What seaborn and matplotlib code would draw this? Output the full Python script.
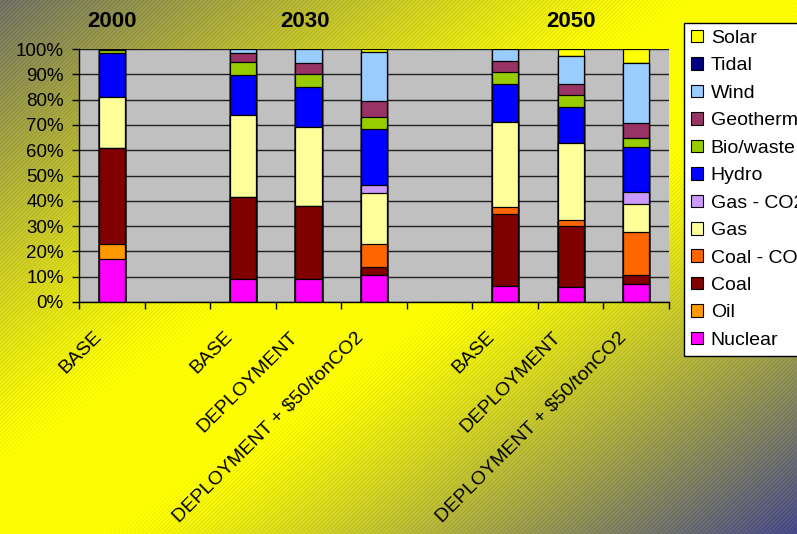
import numpy as np
import pandas as pd
import matplotlib
matplotlib.use("Agg")
import matplotlib.pyplot as plt
import matplotlib.transforms as mtransforms
from matplotlib.patches import Patch
import seaborn as sns

plt.rcParams["font.family"] = ["Liberation Sans", "DejaVu Sans"]

# Generation mix (% of total electricity) for each scenario, stacked bottom to top
sources = ["Nuclear", "Oil", "Coal", "Coal - CO2 capture", "Gas", "Gas - CO2 capture",
           "Hydro", "Bio/waste", "Geothermal", "Wind", "Tidal", "Solar"]
colors = ["#FF00FF", "#FF9900", "#800000", "#FF6600", "#FFFF99", "#CC99FF",
          "#0000FF", "#99CC00", "#993366", "#99CCFF", "#000080", "#FFFF00"]

years = ["2000", "2030", "2050"]
scenario_keys = ["2000 BASE", "2030 BASE", "2030 DEPLOYMENT", "2030 DEPLOYMENT + $50/tonCO2",
                 "2050 BASE", "2050 DEPLOYMENT", "2050 DEPLOYMENT + $50/tonCO2"]
slot_order = ["2000 BASE", "gap 1", "2030 BASE", "2030 DEPLOYMENT", "2030 DEPLOYMENT + $50/tonCO2",
              "gap 2", "2050 BASE", "2050 DEPLOYMENT", "2050 DEPLOYMENT + $50/tonCO2"]
slot_labels = ["BASE", "", "BASE", "DEPLOYMENT", "DEPLOYMENT + $50/tonCO2",
               "", "BASE", "DEPLOYMENT", "DEPLOYMENT + $50/tonCO2"]

nuclear  = [17.0,  9.0,  9.0, 10.7,  6.3,  6.0,  7.1]
oil      = [ 6.0,  0.0,  0.0,  0.0,  0.0,  0.0,  0.0]
coal     = [37.7, 32.5, 29.0,  3.0, 28.5, 24.0,  3.4]
coal_ccs = [ 0.0,  0.0,  0.0,  9.2,  2.6,  2.4, 17.3]
gas      = [20.5, 32.4, 31.0, 20.1, 33.6, 30.3, 10.8]
gas_ccs  = [ 0.0,  0.0,  0.0,  3.1,  0.0,  0.0,  5.0]
hydro    = [17.3, 16.0, 15.9, 22.2, 15.3, 14.5, 17.8]
bio      = [ 1.2,  5.1,  5.1,  4.9,  4.7,  4.6,  3.3]
geo      = [ 0.3,  3.6,  4.6,  6.1,  4.4,  4.2,  5.9]
wind     = [ 0.0,  1.4,  5.4, 19.6,  4.6, 11.2, 24.0]
tidal    = [ 0.0,  0.0,  0.0,  0.0,  0.0,  0.0,  0.0]
solar    = [ 0.0,  0.0,  0.0,  1.1,  0.0,  2.8,  5.4]

series = [nuclear, oil, coal, coal_ccs, gas, gas_ccs, hydro, bio, geo, wind, tidal, solar]

rows = []
for src, vals in zip(sources, series):
    for key, v in zip(scenario_keys, vals):
        rows.append({"scenario": key, "source": src, "share": v})
df = pd.DataFrame(rows)
df["source"] = pd.Categorical(df["source"], categories=sources, ordered=True)
df = df.sort_values(["scenario", "source"])
df["top"] = df.groupby("scenario", observed=True)["share"].cumsum()

W, H, DPI = 797, 534, 100
fig = plt.figure(figsize=(W / DPI, H / DPI), dpi=DPI)

# diagonal gradient backdrop with a fine hatch texture
yy, xx = np.mgrid[0:H, 0:W].astype(float)
t = (xx / W + yy / H) / 2.0
d = np.abs(t - 0.5) * 2.0
w = np.clip((d - 0.12) / 0.88, 0, 1) ** 1.15
yellow = np.array([255, 255, 0], float)
corner_tl = np.array([112, 112, 100], float)
corner_br = np.array([70, 72, 138], float)
corner = np.where((t < 0.5)[..., None], corner_tl, corner_br)
img = yellow * (1 - w[..., None]) + corner * w[..., None]
img += 7.0 * np.sin(2 * np.pi * (xx + yy) / 4.0)[..., None]
img = np.clip(img, 0, 255) / 255.0
bg = fig.add_axes([0, 0, 1, 1], zorder=-10)
bg.imshow(img, aspect="auto", extent=[0, 1, 0, 1], interpolation="nearest")
bg.axis("off")

ax = fig.add_axes([79 / W, 1 - 302 / H, 590 / W, 253 / H])
ax.set_facecolor("#C0C0C0")
ax.set_axisbelow(True)

# stacked bars: draw cumulative tops from the highest layer down
for src, col in zip(reversed(sources), reversed(colors)):
    sub = df[df["source"] == src]
    sns.barplot(data=sub, x="scenario", y="top", order=slot_order, color=col,
                saturation=1, width=0.4, edgecolor="black", linewidth=0.9,
                errorbar=None, ax=ax)

ax.set_xlim(-0.5, len(slot_order) - 0.5)
ax.set_ylim(0, 100)
ax.set_xlabel("")
ax.set_ylabel("")

yt = list(range(0, 101, 10))
ax.set_yticks(yt)
ax.set_yticklabels([f"{v}%" for v in yt], fontsize=13.5)
ax.yaxis.grid(True, color="#202020", linewidth=1.0)
ax.xaxis.grid(False)
ax.tick_params(axis="y", direction="out", length=5, width=1, color="black", pad=6)

ax.set_xticks(np.arange(-0.5, len(slot_order), 1.0))
ax.set_xticklabels([])
ax.tick_params(axis="x", which="major", direction="out", length=5, width=1, color="black")
ax.set_xticks(np.arange(len(slot_order)), minor=True)
ax.set_xticklabels(slot_labels, minor=True, rotation=45, ha="right", va="top",
                   fontsize=14)
ax.tick_params(axis="x", which="minor", length=0, pad=19)
shift = mtransforms.ScaledTranslation(-5 / 72, 0, fig.dpi_scale_trans)
for lab in ax.get_xticklabels(minor=True):
    lab.set_transform(lab.get_transform() + shift)

for side in ["top", "right"]:
    ax.spines[side].set_visible(False)
for side in ["left", "bottom"]:
    ax.spines[side].set_color("black")
    ax.spines[side].set_linewidth(1.0)

# year headings above each group
year_pos = [0, 2.95, 7]
tr = mtransforms.blended_transform_factory(ax.transData, ax.transAxes)
for yr, xp in zip(years, year_pos):
    ax.text(xp, 1.107, yr, transform=tr, ha="center", va="center",
            fontsize=16, fontweight="bold")

handles = [Patch(facecolor=c, edgecolor="black", linewidth=0.8)
           for c in reversed(colors)]
leg = fig.legend(handles, list(reversed(sources)), loc="upper left",
                 bbox_to_anchor=(684 / W, 1 - 23 / H), frameon=True, fancybox=False,
                 framealpha=1, edgecolor="black", fontsize=14,
                 handlelength=0.62, handleheight=0.62, handletextpad=0.4,
                 labelspacing=0.53, borderpad=0.35, borderaxespad=0)
leg.get_frame().set_linewidth(1.0)

fig.savefig("out.png", dpi=DPI)
